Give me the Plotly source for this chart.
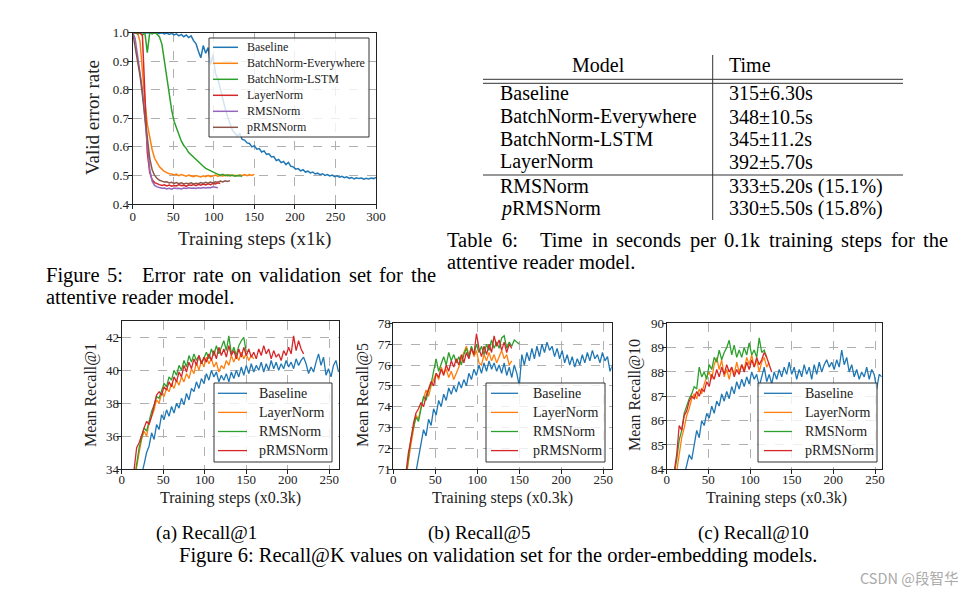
import plotly.graph_objects as go

W, H = 973, 593

# ---------------- Figure 5 data (x in 1k steps, sampled every 3k) ----------------
f5_step = 3
f5_baseline = [1.0, 1.0, 1.0, 1.0, 1.0, 1.0, 1.0, 1.0, 1.0, 1.0,
               0.999, 0.997, 1.0, 0.996, 0.999, 0.994, 0.998, 0.992, 0.996, 0.989,
               0.994, 0.986, 0.992, 0.983, 0.989, 0.972, 0.962, 0.935, 0.912, 0.955,
               0.928, 0.948, 0.888, 0.922, 0.858, 0.838, 0.8, 0.768, 0.735, 0.706,
               0.678, 0.658, 0.648, 0.638, 0.646, 0.626, 0.624, 0.614, 0.612, 0.6,
               0.604, 0.592, 0.594, 0.582, 0.586, 0.574, 0.576, 0.565, 0.566, 0.552,
               0.556, 0.545, 0.549, 0.538, 0.546, 0.532, 0.53, 0.522, 0.524, 0.516,
               0.52, 0.512, 0.515, 0.509, 0.512, 0.505, 0.508, 0.503, 0.506, 0.5,
               0.503, 0.498, 0.501, 0.496, 0.499, 0.494, 0.497, 0.492, 0.495, 0.49,
               0.493, 0.488, 0.492, 0.489, 0.491, 0.487, 0.49, 0.488, 0.491, 0.489,
               0.493]
f5_bn_every = [1.0, 1.0, 1.0, 0.97, 0.85, 0.76, 0.68, 0.63, 0.59, 0.56,
               0.545, 0.53, 0.522, 0.514, 0.51, 0.506, 0.505, 0.502, 0.505, 0.499,
               0.503, 0.5, 0.497, 0.501, 0.498, 0.496, 0.5, 0.497, 0.495, 0.499,
               0.496, 0.5, 0.496, 0.498, 0.501, 0.497, 0.5, 0.498, 0.501, 0.498,
               0.502, 0.499, 0.501, 0.498, 0.502, 0.5, 0.503, 0.499, 0.503, 0.5,
               0.504]
f5_bn_lstm = [1.0, 1.0, 0.996, 1.0, 0.992, 1.0, 0.93, 1.0, 0.996, 1.0,
              0.995, 0.985, 0.96, 0.9, 0.84, 0.78, 0.73, 0.69, 0.665, 0.64,
              0.62, 0.605, 0.595, 0.58, 0.572, 0.562, 0.555, 0.545, 0.54, 0.532,
              0.525, 0.52, 0.515, 0.51, 0.508, 0.504, 0.501, 0.504, 0.499, 0.502,
              0.498, 0.501, 0.497, 0.5, 0.498, 0.497]
f5_layernorm = [1.0, 1.0, 1.0, 1.0, 0.99, 0.8, 0.58, 0.51, 0.485, 0.475,
                0.47, 0.468, 0.465, 0.467, 0.463, 0.466, 0.462, 0.465, 0.463, 0.468,
                0.464, 0.466, 0.462, 0.467, 0.465, 0.468, 0.464, 0.469, 0.466, 0.47,
                0.467, 0.471, 0.468, 0.472, 0.47, 0.474, 0.472]
f5_rmsnorm = [1.0, 0.98, 0.92, 0.86, 0.8, 0.7, 0.6, 0.52, 0.48, 0.465,
              0.46, 0.457, 0.455, 0.456, 0.453, 0.455, 0.452, 0.456, 0.454, 0.455,
              0.453, 0.456, 0.454, 0.457, 0.455, 0.456, 0.454, 0.457, 0.455, 0.458,
              0.456, 0.458, 0.457, 0.46, 0.458, 0.457]
f5_prmsnorm = [1.0, 0.95, 0.9, 0.85, 0.78, 0.7, 0.62, 0.56, 0.52, 0.5,
               0.49, 0.483, 0.48, 0.477, 0.478, 0.474, 0.476, 0.472, 0.475, 0.471,
               0.474, 0.47, 0.473, 0.471, 0.474, 0.47, 0.473, 0.471, 0.475, 0.472,
               0.476, 0.473, 0.477, 0.474, 0.478, 0.476, 0.48, 0.477, 0.481, 0.479,
               0.482]
f5_names = ["Baseline", "BatchNorm-Everywhere", "BatchNorm-LSTM", "LayerNorm", "RMSNorm", "pRMSNorm"]

# ---------------- Figure 6 data (x in 0.3k steps, sampled every 3) ----------------
f6_step = 3
f6_names = ["Baseline", "LayerNorm", "RMSNorm", "pRMSNorm"]

r1_starts = [21, 15, 15, 15]
r1_baseline = [33.0, 33.6, 34.3, 35.0, 35.4, 36.2, 35.8, 36.7, 36.4, 37.3,
               37.0, 37.6, 37.2, 37.8, 37.4, 38.0, 37.7, 38.3, 37.9, 38.6,
               38.2, 38.9, 38.7, 39.3, 38.9, 39.5, 39.2, 39.8, 39.4, 40.0,
               39.6, 39.9, 39.3, 39.7, 39.4, 39.8, 39.3, 39.9, 39.5, 40.0,
               39.6, 40.2, 39.7, 40.3, 39.8, 40.4, 39.9, 40.3, 40.0, 40.5,
               39.9, 40.4, 40.0, 40.6, 40.1, 40.5, 40.0, 40.4, 40.1, 40.6,
               40.2, 40.5, 40.1, 40.7, 40.3, 40.6, 40.8, 40.4, 39.8, 40.2,
               39.9, 40.5, 41.0, 40.3, 40.8, 39.7, 40.1, 39.6, 40.3, 40.6,
               39.9]
r1_layernorm = [33.2, 34.2, 35.0, 35.8, 36.3, 36.0, 36.8, 37.2, 37.6, 38.2,
                38.0, 38.6, 38.4, 38.9, 38.7, 39.2, 38.9, 39.4, 39.1, 39.6,
                39.3, 39.8, 39.5, 40.1, 39.8, 40.5, 40.0, 40.6, 40.2, 40.8,
                40.4, 40.7, 40.2, 40.5, 39.9, 40.3, 40.1, 40.6, 40.3, 40.9,
                40.5, 40.9, 40.6, 41.1, 40.7, 41.0, 40.6, 40.9, 40.7]
r1_rmsnorm = [33.3, 34.4, 35.3, 35.9, 36.5, 36.3, 37.0, 37.5, 37.9, 38.4,
              38.3, 38.8, 39.2, 39.0, 39.6, 39.4, 40.0, 39.7, 40.3, 40.0,
              40.6, 40.2, 40.9, 40.5, 41.0, 40.6, 40.9, 40.4, 40.8, 41.1,
              40.7, 41.3, 40.9, 41.5, 41.0, 41.4, 41.8, 41.2, 42.1, 41.0,
              41.4, 40.9, 41.5, 41.8, 42.0, 41.1]
r1_prmsnorm = [34.0, 35.3, 35.6, 36.1, 36.5, 36.9, 36.7, 37.2, 37.8, 38.5,
               38.7, 38.5, 39.0, 38.8, 39.3, 39.0, 39.6, 39.3, 39.9, 39.6,
               40.3, 39.9, 40.5, 40.1, 40.7, 40.3, 40.9, 40.4, 40.8, 40.5,
               41.0, 40.6, 41.2, 40.7, 41.4, 40.9, 41.3, 40.8, 41.5, 40.9,
               41.2, 40.7, 41.3, 40.8, 41.4, 40.9, 41.3, 40.8, 41.1, 40.7,
               41.3, 40.9, 41.5, 41.0, 41.3, 40.7, 41.2, 40.8, 41.0, 40.6,
               41.2, 40.9, 41.4, 41.0, 42.1, 41.2, 41.8, 41.3, 41.0]

r5_starts = [24, 15, 15, 15]
r5_baseline = [70.2, 70.9, 71.6, 72.3, 72.9, 72.6, 73.4, 73.1, 73.9, 73.6,
               74.3, 74.0, 74.6, 74.3, 74.9, 74.6, 75.0, 74.7, 75.2, 74.9,
               75.3, 75.0, 75.6, 75.3, 75.8, 75.5, 76.0, 75.6, 76.1, 75.7,
               76.2, 75.8, 76.1, 75.7, 76.0, 75.6, 76.1, 75.5, 75.9, 75.4,
               76.0, 75.6, 75.0, 76.5, 76.0, 76.6, 76.2, 76.8, 76.3, 76.9,
               76.4, 77.0, 76.6, 77.1, 76.7, 76.9, 76.4, 76.8, 76.3, 76.7,
               76.1, 76.5, 76.0, 76.4, 75.9, 76.3, 76.0, 76.5, 76.1, 76.6,
               76.2, 76.7, 76.3, 76.5, 76.1, 76.6, 76.2, 76.4, 75.7, 76.0]
r5_layernorm = [70.5, 71.4, 72.2, 72.9, 73.6, 73.4, 74.0, 74.4, 74.8, 74.5,
                75.0, 75.3, 75.6, 75.3, 75.9, 75.6, 75.8, 75.4, 75.7, 75.3,
                75.6, 75.9, 76.3, 76.6, 76.9, 76.5, 76.8, 76.4, 76.7, 76.1,
                76.0, 76.5, 76.2, 76.6, 76.2, 76.5, 76.1, 76.4, 76.7, 76.3,
                76.5, 76.0, 76.2]
r5_rmsnorm = [70.6, 71.6, 72.5, 73.0, 73.5, 73.3, 74.0, 74.5, 74.3, 74.8,
              75.1, 75.7, 76.3, 75.7, 76.1, 76.4, 76.0, 76.6, 76.2, 76.5,
              76.1, 76.4, 76.0, 76.5, 76.8, 76.4, 76.9, 76.5, 77.0, 76.6,
              76.9, 76.5, 77.0, 76.7, 77.2, 76.8, 77.1, 76.8, 77.3, 77.4,
              76.8, 77.1, 76.9, 77.2, 77.1, 77.0]
r5_prmsnorm = [70.8, 71.8, 72.4, 73.2, 73.7, 73.9, 74.2, 74.0, 74.5, 74.9,
               75.2, 75.0, 75.6, 75.4, 75.8, 75.5, 76.0, 75.7, 76.2, 75.9,
               76.3, 76.0, 76.5, 76.1, 76.6, 76.3, 76.8, 76.5, 77.5, 76.8,
               76.4, 76.9, 76.5, 77.0, 76.6, 77.4, 76.9, 77.2, 76.7, 77.1,
               76.6, 77.0, 76.8]

r10_starts = [18, 12, 9, 9]
r10_baseline = [83.3, 83.7, 84.1, 84.6, 84.4, 85.0, 85.6, 85.3, 86.0, 85.8,
                86.3, 86.1, 86.6, 86.3, 86.8, 86.6, 87.1, 86.8, 87.2, 86.9,
                87.4, 87.1, 87.6, 87.3, 87.7, 87.4, 87.8, 87.5, 88.0, 87.7,
                87.9, 87.4, 87.8, 88.2, 87.6, 87.9, 87.5, 88.0, 87.7, 88.1,
                87.8, 88.2, 87.9, 88.4, 87.9, 88.2, 87.7, 88.1, 87.8, 88.3,
                87.9, 88.2, 87.7, 88.3, 87.9, 88.4, 88.0, 88.3, 88.5, 88.2,
                88.4, 88.1, 88.5, 88.2, 88.9, 88.3, 88.6, 88.0, 88.3, 87.8,
                88.1, 87.7, 88.0, 87.8, 88.2, 87.7, 88.1, 87.9, 87.3, 87.9,
                87.8]
r10_layernorm = [83.9, 84.6, 85.3, 85.7, 86.2, 86.5, 86.9, 87.1, 86.9, 87.3,
                 87.1, 87.5, 87.8, 88.0, 87.7, 88.3, 88.6, 88.1, 88.5, 87.8,
                 88.1, 87.7, 88.2, 87.9, 88.4, 88.0, 88.3, 88.1, 88.6, 88.3,
                 88.7, 88.2, 88.5, 88.0, 88.4, 88.6, 88.2, 88.4]
r10_rmsnorm = [83.8, 84.4, 85.2, 85.6, 86.3, 86.6, 86.9, 87.1, 87.4, 87.3,
               88.2, 87.8, 88.0, 87.7, 88.3, 88.1, 88.6, 88.4, 88.9, 88.5,
               88.8, 89.0, 89.3, 88.7, 89.1, 88.6, 88.9, 88.6, 89.0, 88.7,
               89.2, 88.7, 88.9, 88.6, 89.4, 88.8, 88.9, 88.6]
r10_prmsnorm = [83.9, 84.6, 85.8, 85.6, 86.2, 86.4, 86.8, 87.0, 86.9, 87.2,
                87.0, 87.3, 87.2, 87.6, 87.4, 87.9, 87.7, 88.1, 87.8, 88.2,
                87.9, 88.3, 88.0, 88.2, 87.8, 88.1, 87.9, 88.3, 88.0, 88.4,
                88.1, 88.5, 88.2, 88.6, 88.3, 88.5, 88.8, 88.6, 88.3, 88.0]

# ---------------- Table 6 data ----------------
tbl_models = ["Baseline", "BatchNorm-Everywhere", "BatchNorm-LSTM", "LayerNorm", "RMSNorm", "<i>p</i>RMSNorm"]
tbl_times = ["315±6.30s", "348±10.5s", "345±11.2s", "392±5.70s", "333±5.20s (15.1%)", "330±5.50s (15.8%)"]

# justified caption lines (word, left edge in px)
tbl_caption_words = [("Table", 445), ("6:", 500.3), ("Time", 537.6), ("in", 589.5), ("seconds", 614),
                     ("per", 687.5), ("0.1k", 722.3), ("training", 766.8), ("steps", 839.2),
                     ("for", 888.8), ("the", 921.3)]
fig5_caption_words = [("Figure", 44), ("5:", 105.1), ("Error", 140), ("rate", 190.9), ("on", 229.2),
                      ("validation", 257.3), ("set", 346.9), ("for", 377.3), ("the", 408.8)]

COLORS = ["#1f77b4", "#ff7f0e", "#2ca02c", "#d62728", "#9467bd", "#8c564b"]
SERIF = "Liberation Serif"


def xs(start, step, vals):
    return [start + step * i for i in range(len(vals))]


def px(x):
    return x / W


def py(y):
    return 1 - y / H


fig = go.Figure()

# Figure 5 traces
for name, vals, col in zip(f5_names,
                           [f5_baseline, f5_bn_every, f5_bn_lstm, f5_layernorm, f5_rmsnorm, f5_prmsnorm],
                           COLORS):
    fig.add_trace(go.Scatter(x=xs(0, f5_step, vals), y=vals, mode="lines", name=name,
                             line=dict(color=col, width=1.5), xaxis="x", yaxis="y"))

# Figure 6 traces
panels = [
    ([r1_baseline, r1_layernorm, r1_rmsnorm, r1_prmsnorm], r1_starts, "x2", "y2"),
    ([r5_baseline, r5_layernorm, r5_rmsnorm, r5_prmsnorm], r5_starts, "x3", "y3"),
    ([r10_baseline, r10_layernorm, r10_rmsnorm, r10_prmsnorm], r10_starts, "x4", "y4"),
]
for series, starts, xa, ya in panels:
    for name, vals, st, col in zip(f6_names, series, starts, COLORS):
        fig.add_trace(go.Scatter(x=xs(st, f6_step, vals), y=vals, mode="lines", name=name,
                                 line=dict(color=col, width=1.3), xaxis=xa, yaxis=ya))

axis_common = dict(showline=True, mirror=True, linecolor="#222", linewidth=1,
                   ticks="outside", ticklen=4, tickcolor="#222", automargin=False,
                   showgrid=True, gridcolor="#b0b0b0", griddash="dash", gridwidth=0.8,
                   zeroline=False, tickfont=dict(family=SERIF, size=13, color="#222"))

fig.update_layout(
    width=W, height=H, margin=dict(l=0, r=0, t=0, b=0, autoexpand=False),
    paper_bgcolor="white", plot_bgcolor="white", showlegend=False,
    xaxis=dict(axis_common, domain=[px(132.7), px(376)], range=[0, 300], anchor="y",
               tickvals=[0, 50, 100, 150, 200, 250, 300], ticklabelstandoff=-4),
    yaxis=dict(axis_common, domain=[py(204), py(32.7)], range=[0.4, 1.0], anchor="x",
               tickvals=[0.4, 0.5, 0.6, 0.7, 0.8, 0.9, 1.0], tickformat=".1f", ticklabelstandoff=-4),
    xaxis2=dict(axis_common, domain=[px(121.7), px(339.3)], range=[0, 262], anchor="y2",
                tickvals=[0, 50, 100, 150, 200, 250], ticklabelstandoff=-6),
    yaxis2=dict(axis_common, domain=[py(469), py(321)], range=[34, 43], anchor="x2",
                tickvals=[34, 36, 38, 40, 42], ticklabelstandoff=-5),
    xaxis3=dict(axis_common, domain=[px(393.3), px(611.7)], range=[0, 260], anchor="y3",
                tickvals=[0, 50, 100, 150, 200, 250], ticklabelstandoff=-6),
    yaxis3=dict(axis_common, domain=[py(469.3), py(323.3)], range=[71, 78], anchor="x3",
                tickvals=[71, 72, 73, 74, 75, 76, 77, 78], ticklabelstandoff=-5),
    xaxis4=dict(axis_common, domain=[px(666.7), px(881.7)], range=[0, 258], anchor="y4",
                tickvals=[0, 50, 100, 150, 200, 250], ticklabelstandoff=-6),
    yaxis4=dict(axis_common, domain=[py(469.3), py(323.3)], range=[84, 90], anchor="x4",
                tickvals=[84, 85, 86, 87, 88, 89, 90], ticklabelstandoff=-5),
)

ann = []
shapes = []


def text(x, y, s, size=19, xanchor="left", angle=0, color="black", family=SERIF):
    ann.append(dict(x=px(x), y=py(y), xref="paper", yref="paper", text=s, showarrow=False,
                    xanchor=xanchor, yanchor="middle", textangle=angle,
                    font=dict(family=family, size=size, color=color)))


def hline(x0, x1, y, color="#333", width=1):
    shapes.append(dict(type="line", xref="paper", yref="paper", x0=px(x0), x1=px(x1), y0=py(y), y1=py(y),
                       line=dict(color=color, width=width), layer="above"))


def legend_box(x0, y0, x1, y1, row0, gap, lx0, lx1, tx, names, size, lw):
    shapes.append(dict(type="rect", xref="paper", yref="paper", x0=px(x0), x1=px(x1), y0=py(y0), y1=py(y1),
                       fillcolor="rgba(255,255,255,0.8)", line=dict(color="#333", width=1), layer="above"))
    for i, (name, col) in enumerate(zip(names, COLORS)):
        yy = row0 + gap * i
        hline(lx0, lx1, yy, col, lw)
        text(tx, yy, name, size, "left", color="#222")


# legends
legend_box(209, 38, 369, 137, 47.3, 16.0, 213, 238, 245, f5_names, 12, 1.5)
legend_box(214, 383, 332, 462, 393.3, 19.1, 218, 247, 257, f6_names, 14, 1.3)
legend_box(486, 383, 605, 462, 393.3, 19.1, 491, 518, 531, f6_names, 14, 1.3)
legend_box(758, 383, 877, 462, 393.3, 19.1, 764, 792, 803, f6_names, 14, 1.3)

# axis titles
text(254, 239, "Training steps (x1k)", 19, "center", color="#222")
text(92, 118, "Valid error rate", 19, "center", -90, color="#222")
for cx, ylab, ylx in [(230, "Mean Recall@1", 91), (502, "Mean Recall@5", 363), (776, "Mean Recall@10", 635)]:
    text(cx, 498, "Training steps (x0.3k)", 16, "center", color="#222")
    text(ylx, 395, ylab, 16, "center", -90, color="#222")

# table
text(598, 65, "Model", 20, "center")
text(727, 65, "Time", 20, "left")
row_y = [93, 116.5, 139, 161.5, 186.5, 208.5]
for yy, m, t in zip(row_y, tbl_models, tbl_times):
    text(498, yy, m, 20, "left")
    text(727, yy, t, 20, "left")

# captions (first lines justified word by word)
for w, x in tbl_caption_words:
    text(x, 240, w, 20.5, "left")
text(445, 262, "attentive reader model.", 20.5, "left")
for w, x in fig5_caption_words:
    text(x, 275, w, 20.5, "left")
text(44, 297, "attentive reader model.", 20.5, "left")
text(206.5, 533, "(a) Recall@1", 19, "center")
text(478.5, 533, "(b) Recall@5", 19, "center")
text(753, 533, "(c) Recall@10", 19, "center")
text(498, 555, "Figure 6: Recall@K values on validation set for the order-embedding models.", 20.5, "center")
text(960, 577, "CSDN @段智华", 14.5, "right", color="#aaaaaa", family="Noto Sans CJK SC")

# table rules
shapes.append(dict(type="line", xref="paper", yref="paper", x0=px(712.7), x1=px(712.7), y0=py(55), y1=py(220),
                   line=dict(color="#333", width=1)))
hline(483, 903, 79.3)
hline(483, 903, 83.3)
hline(483, 903, 175)

fig.update_layout(annotations=ann, shapes=shapes)

fig.write_html("out.html", config={"displayModeBar": False},
               post_script="document.body.style.margin='0';document.body.style.padding='0';")
